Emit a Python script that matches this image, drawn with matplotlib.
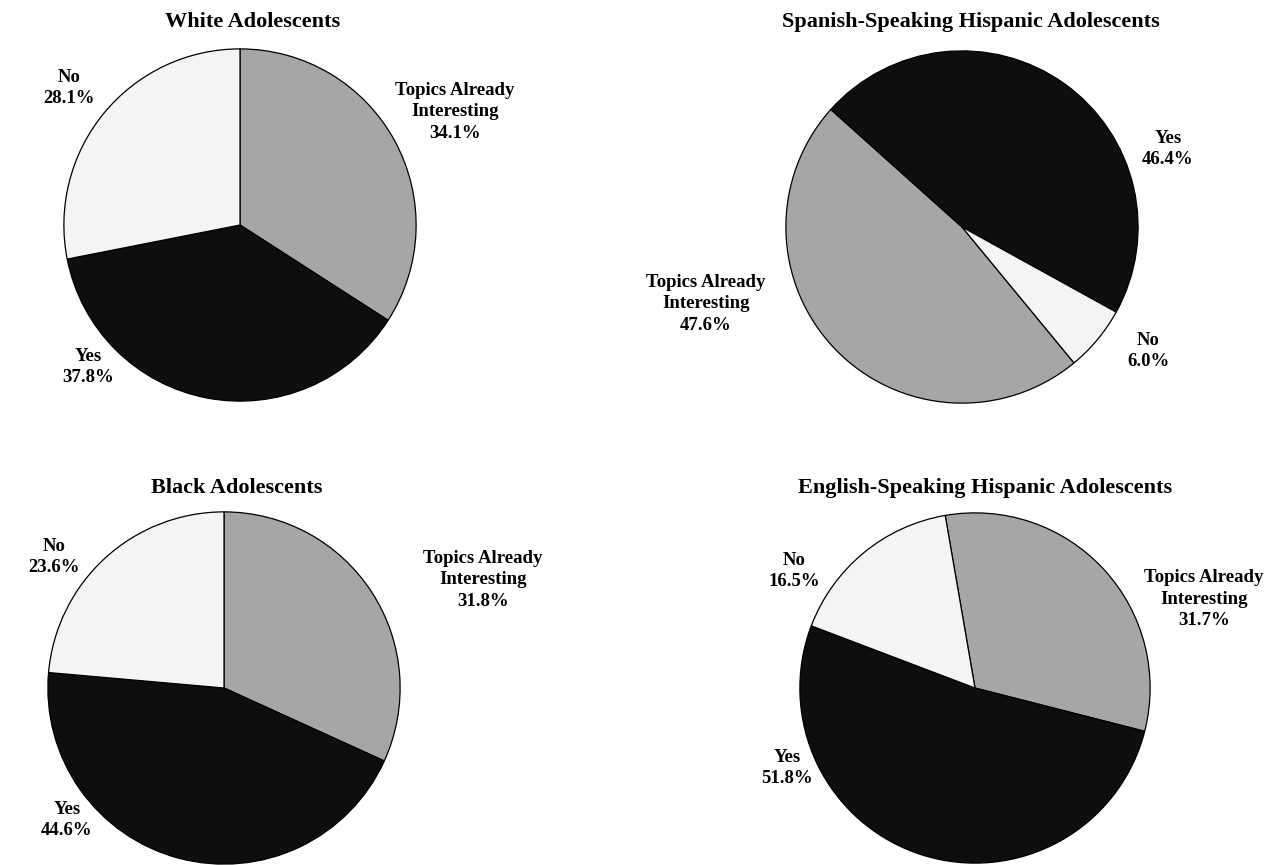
import matplotlib.pyplot as plt

plt.rcParams['font.family'] = ['Liberation Serif', 'DejaVu Serif']
plt.rcParams['font.weight'] = 'bold'

# Share of adolescents by answer, slice order Topics Already Interesting, Yes, No
categories = ['Topics Already\nInteresting', 'Yes', 'No']
white = [34.1, 37.8, 28.1]
spanish = [47.6, 46.4, 6.0]
black = [31.8, 44.6, 23.6]
english = [31.7, 51.8, 16.5]

titles = ['White Adolescents', 'Spanish-Speaking Hispanic Adolescents',
          'Black Adolescents', 'English-Speaking Hispanic Adolescents']
groups = [white, spanish, black, english]

slice_colors = ['#a6a6a6', '#0e0e0e', '#f4f4f4']

W, H = 1282, 865
fig = plt.figure(figsize=(W / 100, H / 100), dpi=100)

# pie centre (px), radius (px), start angle, title baseline and label block centres (px)
layout = [
    dict(c=(240, 225), r=177, start=90, title=(253, 27),
         labels=[(455, 112), (88, 367), (69, 88)]),
    dict(c=(962, 227), r=177, start=-50.5, title=(971, 27),
         labels=[(706, 304), (1168, 149), (1148, 351)]),
    dict(c=(224, 688), r=177, start=90, title=(237, 493),
         labels=[(483, 580), (67, 820), (54, 557)]),
    dict(c=(975, 688), r=176, start=99.8, title=(985, 493),
         labels=[(1204, 599), (787, 768), (794, 571)]),
]

for vals, title, lay in zip(groups, titles, layout):
    cx, cy = lay['c']
    r = lay['r']
    ax = fig.add_axes([(cx - r) / W, 1 - (cy + r) / H, 2 * r / W, 2 * r / H])
    ax.pie(vals, colors=slice_colors, startangle=lay['start'], counterclock=False,
           radius=1, wedgeprops=dict(edgecolor='black', linewidth=0.9))
    ax.set_aspect('auto')
    ax.set_xlim(-1.005, 1.005)
    ax.set_ylim(-1.005, 1.005)
    ax.axis('off')

    tx, ty = lay['title']
    fig.text(tx / W, 1 - ty / H, title, ha='center', va='baseline',
             fontsize=16, fontweight='bold')
    for name, v, (lx, ly) in zip(categories, vals, lay['labels']):
        fig.text(lx / W, 1 - ly / H, f'{name}\n{v:.1f}%', ha='center', va='center',
                 fontsize=13.5, fontweight='bold', linespacing=1.33)

fig.savefig('out.png', dpi=100, facecolor='white')
